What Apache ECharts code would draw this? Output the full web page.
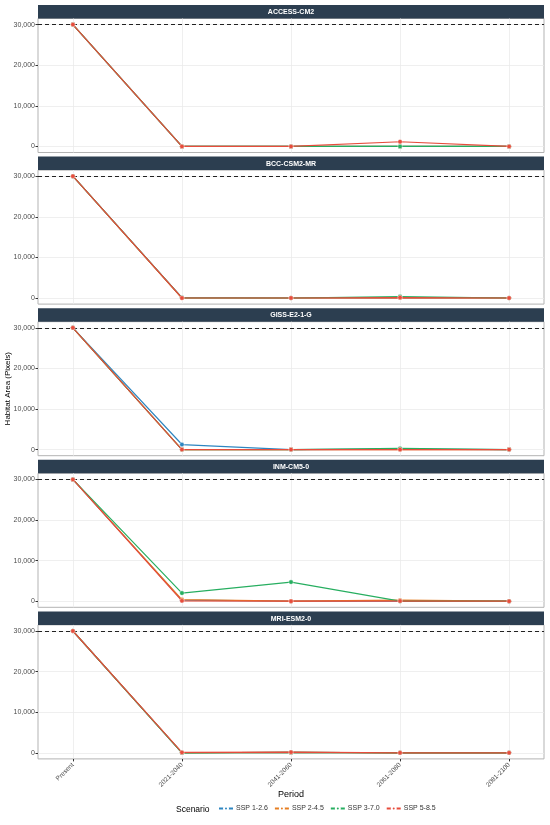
<!DOCTYPE html>
<html>
<head>
<meta charset="utf-8">
<script src="https://cdn.jsdelivr.net/npm/echarts@6/dist/echarts.min.js"></script>
<style>
  html, body { margin: 0; padding: 0; background: #fff; }
  #chart { width: 550px; height: 825px; }
</style>
</head>
<body>
<div id="chart"></div>
<script>
const periods = ['Present', '2021-2040', '2041-2060', '2061-2080', '2081-2100'];
const models = ['ACCESS-CM2', 'BCC-CSM2-MR', 'GISS-E2-1-G', 'INM-CM5-0', 'MRI-ESM2-0'];
const scenarios = ['SSP 1-2.6', 'SSP 2-4.5', 'SSP 3-7.0', 'SSP 5-8.5'];
const scenarioColors = ['#2E86C1', '#E67E22', '#27AE60', '#E74C3C'];
const yTicks = [0, 10000, 20000, 30000];
const baseline = 30000;

// one row per scenario, one value per period
const accessCm2 = [
  [30000, 0, 0, 0, 0],
  [30000, 0, 0, 0, 0],
  [30000, 0, 0, 0, 0],
  [30000, 0, 0, 1150, 0]
];
const bccCsm2Mr = [
  [30000, 100, 0, 100, 0],
  [30000, 0, 0, 50, 0],
  [30000, 50, 0, 350, 0],
  [30000, 0, 0, 100, 0]
];
const gissE21G = [
  [30000, 1250, 0, 100, 0],
  [30000, 0, 0, 0, 0],
  [30000, 0, 0, 300, 0],
  [30000, 0, 0, 0, 0]
];
const inmCm50 = [
  [30000, 250, 0, 100, 0],
  [30000, 400, 0, 250, 0],
  [30000, 2000, 4700, 0, 0],
  [30000, 100, 0, 50, 0]
];
const mriEsm20 = [
  [30000, 0, 100, 0, 0],
  [30000, 0, 100, 0, 0],
  [30000, 0, 100, 0, 0],
  [30000, 100, 150, 0, 0]
];
const modelValues = [accessCm2, bccCsm2Mr, gissE21G, inmCm50, mriEsm20];

const FONT = 'Liberation Sans, Arial, sans-serif';
const PANEL_LEFT = 38;
const PANEL_RIGHT = 6;
const PANEL_PITCH = 151.6;
const STRIP_TOP = 5;
const STRIP_H = 13.5;
const PLOT_H = 134;

const chart = echarts.init(document.getElementById('chart'), null, { renderer: 'canvas' });

const grids = [], xAxes = [], yAxes = [], series = [], graphics = [];

models.forEach((model, g) => {
  const stripTop = STRIP_TOP + g * PANEL_PITCH;
  grids.push({
    left: PANEL_LEFT, right: PANEL_RIGHT,
    top: stripTop + STRIP_H, height: PLOT_H,
    show: true, borderColor: '#b3b3b3', borderWidth: 1,
    outerBoundsMode: 'none',
    containLabel: false
  });

  const isLast = g === models.length - 1;
  xAxes.push({
    type: 'value', gridIndex: g,
    min: -0.32, max: 4.32,
    axisLine: { show: false, onZero: false },
    axisTick: { show: isLast, length: 2.5, lineStyle: { color: '#333' }, customValues: [0, 1, 2, 3, 4] },
    axisLabel: {
      show: isLast, rotate: 45, fontSize: 6.5, color: '#4d4d4d', fontFamily: FONT, margin: 5,
      customValues: [0, 1, 2, 3, 4],
      formatter: v => periods[v]
    },
    splitLine: { show: true, lineStyle: { color: '#ebebeb', width: 0.8 } },
    name: isLast ? 'Period' : '',
    nameLocation: 'middle', nameGap: 31, nameMoveOverlap: false,
    nameTextStyle: { fontSize: 9, color: '#000', fontFamily: FONT }
  });

  yAxes.push({
    type: 'value', gridIndex: g,
    min: -1500, max: 31500,
    axisLine: { show: false, onZero: false },
    axisTick: { show: true, length: 2.5, lineStyle: { color: '#333' }, customValues: yTicks },
    axisLabel: {
      fontSize: 7, color: '#4d4d4d', fontFamily: FONT, margin: 3,
      customValues: yTicks,
      formatter: v => v.toLocaleString('en-US')
    },
    splitLine: { show: true, lineStyle: { color: '#ebebeb', width: 0.8 } },
    name: g === 2 ? 'Habitat Area (Pixels)' : '',
    nameLocation: 'middle', nameGap: 26, nameMoveOverlap: false,
    nameTextStyle: { fontSize: 8, color: '#000', fontFamily: FONT }
  });

  scenarios.forEach((sc, s) => {
    const item = {
      name: sc, type: 'line',
      xAxisIndex: g, yAxisIndex: g,
      data: modelValues[g][s].map((v, i) => [i, v]),
      symbol: 'circle', symbolSize: 4.5,
      lineStyle: { width: 1.2, color: scenarioColors[s] },
      itemStyle: { color: scenarioColors[s], borderColor: '#fff', borderWidth: 0.4 },
      emphasis: { disabled: true },
      animation: false,
      z: 3 + s
    };
    if (s === scenarios.length - 1) {
      item.markLine = {
        silent: true, symbol: 'none', animation: false,
        label: { show: false },
        lineStyle: { type: [4, 3], color: '#222', width: 1.2 },
        data: [{ yAxis: baseline }]
      };
    }
    series.push(item);
  });

  // facet strip
  graphics.push({
    type: 'group', left: PANEL_LEFT, top: stripTop,
    children: [
      { type: 'rect', shape: { x: 0, y: 0, width: 550 - PANEL_LEFT - PANEL_RIGHT, height: STRIP_H },
        style: { fill: '#2C3E50' } },
      { type: 'text', x: (550 - PANEL_LEFT - PANEL_RIGHT) / 2, y: STRIP_H / 2 + 0.5,
        style: { text: model, fill: '#fff', font: 'bold 7px ' + FONT, textAlign: 'center', textVerticalAlign: 'middle' } }
    ]
  });
});

graphics.push({
  type: 'text', x: 176, y: 810,
  style: { text: 'Scenario', fill: '#000', font: '8.5px ' + FONT, textVerticalAlign: 'middle' }
});

chart.setOption({
  animation: false,
  grid: grids,
  xAxis: xAxes,
  yAxis: yAxes,
  series,
  graphic: graphics,
  legend: {
    data: scenarios,
    left: 213, top: 803,
    padding: [2, 5],
    itemWidth: 14, itemHeight: 5, itemGap: 6,
    textStyle: { fontSize: 7, color: '#333', fontFamily: FONT, padding: [0, 0, 0, -2] },
    selectedMode: false
  }
});
</script>
</body>
</html>
